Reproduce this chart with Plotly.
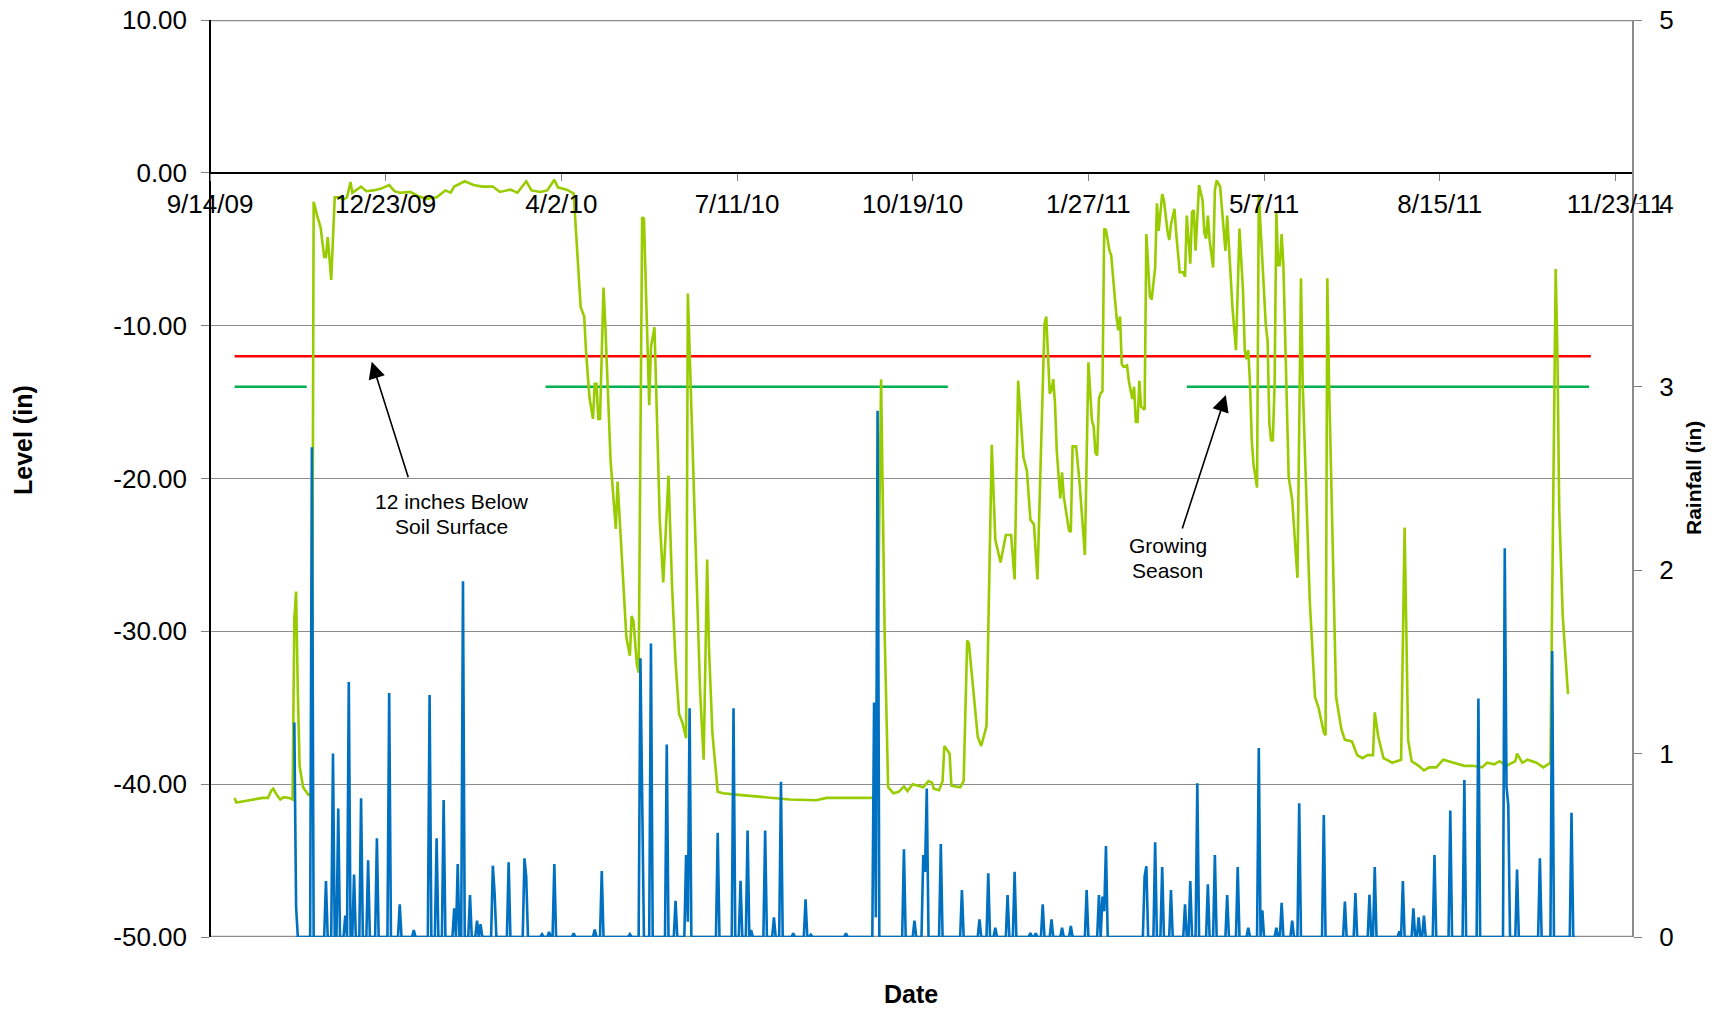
import pandas as pd
import plotly.graph_objects as go

START = pd.Timestamp("2009-09-14")

# ---- Level (in), day offset from 9/14/09 ----
level_day = [14, 15, 20, 25, 30, 33, 35, 36, 38, 40, 42, 45, 47, 48, 49, 50, 51, 53, 56, 58, 59, 61, 63, 65, 66, 67, 69, 71, 73, 76, 78, 80, 81, 86, 89, 93, 97, 102, 105, 108, 114, 118, 123, 129, 134, 137, 139, 145, 150, 155, 161, 165, 171, 175, 180, 183, 188, 192, 196, 198, 203, 207, 209, 211, 213, 214, 216, 218, 219, 220, 221, 222, 224, 225, 228, 231, 232, 234, 237, 239, 240, 241, 243, 244, 246, 247, 248, 250, 251, 253, 256, 258, 261, 263, 265, 267, 269, 271, 272, 273, 275, 277, 279, 281, 283, 284, 286, 289, 292, 301, 310, 320, 330, 345, 351, 366, 379, 382, 384, 386, 389, 392, 395, 397, 400, 406, 409, 411, 412, 415, 417, 418, 421, 422, 427, 429, 431, 432, 437, 439, 442, 445, 447, 450, 453, 456, 458, 460, 463, 465, 467, 469, 471, 475, 476, 478, 479, 480, 481, 482, 484, 485, 486, 488, 489, 490, 491, 493, 495, 498, 500, 502, 503, 504, 505, 506, 507, 508, 509, 510, 512, 513, 514, 515, 516, 517, 518, 519, 520, 522, 523, 525, 526, 527, 528, 529, 530, 532, 533, 534, 535, 536, 538, 539, 540, 542, 543, 545, 546, 547, 549, 550, 551, 552, 554, 555, 556, 557, 558, 559, 560, 561, 562, 563, 565, 566, 567, 568, 569, 571, 572, 573, 575, 577, 578, 579, 580, 581, 582, 584, 586, 588, 589, 590, 591, 592, 593, 594, 596, 597, 599, 600, 601, 602, 603, 604, 605, 606, 607, 608, 609, 610, 611, 614, 616, 619, 621, 622, 626, 629, 631, 634, 635, 636, 637, 641, 644, 646, 650, 653, 656, 659, 662, 663, 665, 668, 673, 678, 680, 682, 684, 688, 691, 694, 698, 702, 708, 714, 719, 724, 727, 731, 734, 738, 743, 744, 747, 750, 755, 759, 763, 766, 767, 768, 770, 773]
level_in = [-40.9, -41.2, -41.1, -41.0, -40.9, -40.9, -40.4, -40.3, -40.7, -41.0, -40.85, -40.9, -41.0, -29.2, -27.4, -34.0, -38.8, -40.2, -40.7, -40.6, -1.9, -2.8, -3.6, -5.5, -5.5, -4.2, -7.0, -1.6, -1.6, -1.75, -1.6, -0.6, -1.3, -0.9, -1.2, -1.15, -1.05, -0.8, -1.2, -1.3, -1.25, -1.5, -1.7, -1.6, -1.15, -1.3, -0.9, -0.55, -0.8, -0.9, -0.9, -1.25, -1.1, -1.3, -0.55, -1.15, -1.25, -1.15, -0.45, -0.95, -1.1, -1.35, -4.9, -8.8, -9.4, -11.6, -14.7, -16.1, -13.8, -13.8, -16.1, -16.1, -7.5, -9.9, -18.8, -23.3, -20.2, -24.6, -30.4, -31.6, -29.0, -29.3, -32.2, -32.7, -2.9, -3.0, -6.8, -15.2, -11.4, -10.1, -22.7, -26.8, -19.8, -27.0, -32.0, -35.4, -36.0, -37.0, -7.9, -11.6, -20.3, -28.0, -34.0, -38.4, -25.3, -31.0, -36.7, -40.5, -40.6, -40.7, -40.8, -40.9, -41.0, -41.05, -40.9, -40.9, -40.9, -13.5, -30.0, -40.2, -40.6, -40.5, -40.15, -40.45, -40.0, -40.2, -39.8, -39.9, -40.3, -40.4, -39.8, -37.5, -38.0, -40.1, -40.2, -39.8, -30.6, -30.8, -36.9, -37.5, -36.2, -17.8, -24.0, -25.5, -23.7, -23.7, -26.6, -13.6, -18.6, -19.5, -22.7, -23.0, -26.6, -9.9, -9.4, -14.45, -14.2, -13.5, -15.1, -18.2, -21.3, -19.6, -21.2, -22.7, -23.4, -23.5, -17.9, -17.9, -20.3, -25.0, -12.4, -16.2, -16.6, -18.3, -18.5, -14.8, -14.4, -14.3, -3.65, -3.75, -5.1, -5.4, -7.0, -8.1, -9.4, -10.3, -9.4, -12.5, -12.7, -12.6, -13.6, -14.8, -14.0, -16.3, -16.3, -13.6, -15.3, -15.5, -4.0, -5.7, -8.1, -8.3, -6.2, -2.0, -3.8, -1.4, -1.8, -3.8, -4.4, -3.4, -2.35, -4.0, -5.1, -6.5, -6.5, -6.8, -2.8, -4.6, -5.95, -2.55, -2.45, -5.1, -2.8, -0.8, -1.8, -3.9, -4.3, -2.8, -4.4, -6.2, -1.15, -0.5, -0.9, -3.8, -5.1, -2.8, -4.85, -6.8, -8.8, -11.6, -3.65, -7.7, -11.6, -12.2, -11.6, -13.8, -17.5, -19.1, -20.6, -1.4, -5.5, -7.25, -10.0, -11.0, -16.4, -17.5, -17.5, -13.8, -2.55, -6.05, -6.05, -4.0, -6.05, -19.9, -21.4, -26.5, -6.9, -13.8, -28.0, -34.3, -35.0, -36.6, -36.8, -6.9, -13.8, -34.3, -36.4, -37.1, -37.2, -38.1, -38.3, -38.1, -38.1, -35.3, -36.9, -38.3, -38.6, -38.4, -23.2, -37.1, -38.5, -38.8, -39.1, -38.9, -38.9, -38.4, -38.6, -38.8, -38.8, -38.9, -38.6, -38.7, -38.5, -38.8, -38.5, -38.0, -38.6, -38.4, -38.6, -38.9, -38.6, -6.3, -12.0, -22.0, -29.0, -34.1]

# ---- Rainfall (in): days with rain (all other days in the record = 0) ----
rain_first_day = 48
rain_last_day = 777
rain_day = [48, 49, 58, 66, 70, 73, 77, 79, 82, 86, 90, 95, 102, 108, 116, 125, 129, 133, 139, 141, 144, 148, 152, 154, 161, 162, 170, 179, 180, 189, 193, 196, 207, 219, 223, 239, 245, 246, 251, 260, 265, 271, 272, 273, 289, 298, 302, 306, 308, 316, 321, 325, 332, 339, 342, 362, 378, 379, 380, 395, 401, 406, 407, 408, 416, 428, 438, 443, 447, 454, 458, 467, 470, 474, 479, 485, 490, 499, 506, 508, 509, 510, 532, 533, 538, 542, 547, 555, 558, 562, 568, 572, 579, 585, 591, 597, 599, 607, 610, 616, 620, 634, 646, 652, 660, 663, 677, 679, 685, 688, 691, 697, 706, 714, 722, 737, 738, 739, 744, 757, 764, 775]
rain_in = [1.17, 0.165, 2.67, 0.305, 1.0, 0.70, 0.116, 1.39, 0.34, 0.756, 0.418, 0.538, 1.33, 0.178, 0.038, 1.32, 0.538, 0.747, 0.156, 0.398, 1.94, 0.229, 0.089, 0.07, 0.389, 0.238, 0.407, 0.429, 0.33, 0.015, 0.027, 0.398, 0.02, 0.04, 0.36, 0.015, 1.52, 0.78, 1.6, 1.05, 0.198, 0.447, 0.083, 1.247, 0.569, 1.247, 0.307, 0.58, 0.038, 0.58, 0.107, 0.847, 0.02, 0.205, 0.013, 0.02, 1.278, 0.107, 2.87, 0.478, 0.089, 0.447, 0.355, 0.81, 0.507, 0.256, 0.096, 0.347, 0.05, 0.229, 0.355, 0.022, 0.02, 0.178, 0.096, 0.05, 0.06, 0.256, 0.229, 0.22, 0.14, 0.496, 0.33, 0.386, 0.516, 0.382, 0.256, 0.178, 0.305, 0.838, 0.287, 0.447, 0.229, 0.382, 0.05, 1.03, 0.146, 0.05, 0.187, 0.089, 0.729, 0.665, 0.193, 0.24, 0.23, 0.382, 0.03, 0.305, 0.156, 0.107, 0.116, 0.447, 0.689, 0.856, 1.30, 2.12, 0.82, 0.72, 0.368, 0.429, 1.56, 0.678]

# ---- reference lines ----
below12_day = [14, 786]
below12_in = [-12, -12]
season_day = [14, 55, None, 191, 420, None, 556, 785]
season_in = [-14, -14, None, -14, -14, None, -14, -14]

# ---- axes ----
x_tick_day = [0, 100, 200, 300, 400, 500, 600, 700, 800]
x_tick_text = ["9/14/09", "12/23/09", "4/2/10", "7/11/10", "10/19/10", "1/27/11", "5/7/11", "8/15/11", "11/23/11"]
x_end_day = 810
level_ticks = [-50, -40, -30, -20, -10, 0, 10]
level_tick_text = ["%.2f" % v for v in level_ticks]
rain_ticks = [0, 1, 2, 3, 4, 5]


def to_dates(days):
    return [None if d is None else START + pd.Timedelta(days=d) for d in days]


rain_map = dict(zip(rain_day, rain_in))
rain_all_days = list(range(rain_first_day, rain_last_day + 1))
rain_all = [rain_map.get(d, 0.0) for d in rain_all_days]

FONT = "Liberation Sans, Arial, sans-serif"
LW = 2.6

fig = go.Figure()
fig.add_trace(go.Scatter(x=to_dates(below12_day), y=below12_in, mode="lines",
                         line=dict(color="#FF0000", width=LW), hoverinfo="skip"))
fig.add_trace(go.Scatter(x=to_dates(season_day), y=season_in, mode="lines",
                         line=dict(color="#00B050", width=LW), connectgaps=False, hoverinfo="skip"))
fig.add_trace(go.Scatter(x=to_dates(level_day), y=level_in, mode="lines",
                         line=dict(color="#99CC00", width=LW), name="Level"))
fig.add_trace(go.Scatter(x=to_dates(rain_all_days), y=rain_all, mode="lines", yaxis="y2",
                         line=dict(color="#0070C0", width=LW), name="Rainfall"))

L, R, T, B = 210, 88, 20, 72
W, H = 1721, 1009
PW, PH = W - L - R, H - T - B


def px(x):
    return (x - L) / PW


def py(y):
    return (H - B - y) / PH


annotations = [
    dict(text="<b>Level (in)</b>", x=px(23), y=py(440), textangle=-90, font=dict(size=25)),
    dict(text="<b>Rainfall (in)</b>", x=px(1693), y=py(478), textangle=-90, font=dict(size=21)),
    dict(text="<b>Date</b>", x=px(911), y=py(994), font=dict(size=25)),
    dict(text="12 inches Below", x=px(451.5), y=py(501.7), font=dict(size=21)),
    dict(text="Soil Surface", x=px(451.5), y=py(526), font=dict(size=21)),
    dict(text="Growing", x=px(1167.5), y=py(545.5), font=dict(size=21)),
    dict(text="Season", x=px(1167.5), y=py(570.7), font=dict(size=21)),
]
for a in annotations:
    a.update(xref="paper", yref="paper", showarrow=False, xanchor="center", yanchor="middle")
    a["font"].update(family=FONT, color="black")

arrows = [
    dict(x=px(371.7), y=py(361.7), ax=37, ay=117),
    dict(x=px(1225.8), y=py(395), ax=-44, ay=135),
]
for a in arrows:
    a.update(xref="paper", yref="paper", text="", showarrow=True, arrowhead=2,
             arrowsize=2.1, arrowwidth=1.6, arrowcolor="black", standoff=0, startstandoff=0)
    annotations.append(a)

shapes = [
    dict(type="line", xref="paper", yref="y", x0=0, x1=1, y0=10, y1=10,
         line=dict(color="#8c8c8c", width=2.5), layer="below"),
    dict(type="line", xref="paper", yref="y", x0=0, x1=1, y0=-50, y1=-50,
         line=dict(color="#8c8c8c", width=2.5), layer="below"),
]

fig.update_layout(
    width=W, height=H,
    margin=dict(l=L, r=R, t=T, b=B, pad=0, autoexpand=False),
    paper_bgcolor="white", plot_bgcolor="white",
    showlegend=False,
    font=dict(family=FONT, size=26, color="black"),
    annotations=annotations,
    shapes=shapes,
    xaxis=dict(
        type="date",
        range=[START, START + pd.Timedelta(days=x_end_day)],
        anchor="free", position=50 / 60,
        tickvals=to_dates(x_tick_day), ticktext=x_tick_text,
        ticks="outside", ticklen=7, tickwidth=1, tickcolor="#808080",
        showline=True, linecolor="black", linewidth=1.5,
        showgrid=False, zeroline=False, automargin=False,
        tickfont=dict(size=26, family=FONT, color="black"),
        ticklabelstandoff=1,
    ),
    yaxis=dict(
        range=[-50, 10], anchor="free", position=0,
        tickvals=level_ticks, ticktext=level_tick_text,
        ticks="outside", ticklen=8, tickwidth=1, tickcolor="#808080",
        showline=True, linecolor="black", linewidth=1.5,
        showgrid=True, gridcolor="#8c8c8c", gridwidth=1.25,
        zeroline=False, automargin=False,
        tickfont=dict(size=26, family=FONT, color="black"),
        ticklabelstandoff=9,
    ),
    yaxis2=dict(
        range=[0, 5], overlaying="y", side="right", anchor="free", position=1,
        tickvals=rain_ticks, ticktext=[str(v) for v in rain_ticks],
        ticks="outside", ticklen=8, tickwidth=1, tickcolor="#808080",
        showline=True, linecolor="#8c8c8c", linewidth=2,
        showgrid=False, zeroline=False, automargin=False,
        tickfont=dict(size=26, family=FONT, color="black"),
        ticklabelstandoff=12,
    ),
)

fig.write_html("out.html", config={"displayModeBar": False},
               post_script="document.body.style.margin='0';document.body.style.overflow='hidden';")
